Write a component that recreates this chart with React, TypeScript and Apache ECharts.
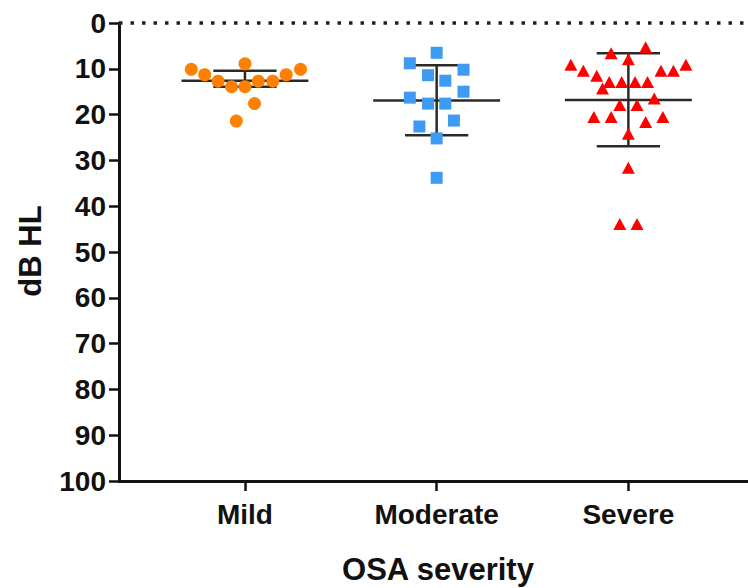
import React, { useEffect, useRef } from "react";
import * as echarts from "echarts";

// ---- data ----
const categories = ["Mild", "Moderate", "Severe"];
const categoryPositions = [1, 2, 3];

const mildValues = [10.1, 11.3, 12.7, 13.9, 8.9, 13.9, 12.7, 12.7, 11.3, 10.1, 17.6, 21.4];
const mildJitter = [-0.28, -0.21, -0.14, -0.07, 0, 0, 0.07, 0.145, 0.215, 0.29, 0.05, -0.045];

const moderateValues = [6.5, 8.8, 10.2, 11.4, 12.6, 15.0, 16.3, 17.6, 17.6, 21.3, 22.6, 25.2, 33.8];
const moderateJitter = [0, -0.14, 0.14, -0.045, 0.045, 0.14, -0.14, -0.045, 0.045, 0.09, -0.09, 0, 0];

const severeValues = [
  5.3, 6.6, 7.9, 9.1, 10.4, 10.4, 10.4, 9.1, 11.5, 12.9, 12.9, 12.9, 12.9,
  14.3, 16.5, 17.9, 17.9, 20.5, 20.5, 20.5, 21.6, 24.2, 31.6, 43.9, 43.9,
];
const severeJitter = [
  0.09, -0.09, 0, -0.3, -0.235, 0.17, 0.235, 0.3, -0.165, -0.1, -0.035, 0.035, 0.1,
  -0.135, 0.135, -0.045, 0.045, -0.18, -0.09, 0.18, 0.09, 0, 0, -0.045, 0.045,
];

const means = [12.6, 16.9, 16.8];
const sdLow = [10.4, 9.2, 6.6];
const sdHigh = [13.9, 24.5, 26.9];

const yMin = 0;
const yMax = 100;
const yInterval = 10;

// ---- styling ----
const FONT = '"Liberation Sans", Arial, Helvetica, sans-serif';
const AXIS_COLOR = "#111";
const BAR_COLOR = "#2a2a2a";
const MEAN_HALF = 0.331;
const CAP_HALF = 0.165;

function toPoints(values: number[], jitter: number[], pos: number) {
  return values.map((v, i) => [pos + jitter[i], v]);
}

export default function App() {
  const ref = useRef<HTMLDivElement>(null);

  useEffect(() => {
    if (!ref.current) return;
    const chart = echarts.init(ref.current, null, { renderer: "svg" });

    const errorData = categoryPositions.map((p, i) => [p, means[i], sdLow[i], sdHigh[i]]);

    const option: any = {
      animation: false,
      backgroundColor: "#fff",
      grid: { left: 119, right: 0, top: 23, bottom: 107, containLabel: false, outerBoundsMode: "none" },
      xAxis: {
        type: "value",
        min: 0.343,
        max: 3.624,
        splitLine: { show: false },
        axisLine: { show: true, onZero: false, lineStyle: { color: AXIS_COLOR, width: 3 } },
        axisTick: {
          show: true,
          customValues: categoryPositions,
          length: 10,
          lineStyle: { color: AXIS_COLOR, width: 2.5 },
        },
        axisLabel: {
          customValues: categoryPositions,
          formatter: (v: number) => categories[Math.round(v) - 1] ?? "",
          fontFamily: FONT,
          fontSize: 28,
          fontWeight: "bold",
          color: AXIS_COLOR,
          margin: 19,
        },
      },
      yAxis: {
        type: "value",
        inverse: true,
        min: yMin,
        max: yMax,
        interval: yInterval,
        splitLine: { show: false },
        axisLine: { show: true, onZero: false, lineStyle: { color: AXIS_COLOR, width: 3 } },
        axisTick: { show: true, length: 10, lineStyle: { color: AXIS_COLOR, width: 2.5 } },
        axisLabel: {
          fontFamily: FONT,
          fontSize: 28,
          fontWeight: "bold",
          color: AXIS_COLOR,
          margin: 13,
        },
      },
      graphic: [
        {
          type: "text",
          x: 30,
          y: 251,
          rotation: Math.PI / 2,
          style: {
            text: "dB HL",
            fontFamily: FONT,
            fontSize: 31,
            fontWeight: "bold",
            fill: AXIS_COLOR,
            align: "center",
            verticalAlign: "middle",
          },
        },
        {
          type: "text",
          x: 438,
          y: 569,
          style: {
            text: "OSA severity",
            fontFamily: FONT,
            fontSize: 31,
            fontWeight: "bold",
            fill: AXIS_COLOR,
            align: "center",
            verticalAlign: "middle",
          },
        },
      ],
      series: [
        {
          type: "custom",
          name: "mean ± SD",
          z: 2,
          data: errorData,
          renderItem: (params: any, api: any) => {
            const x = api.value(0);
            const m = api.value(1);
            const lo = api.value(2);
            const hi = api.value(3);
            const ml = api.coord([x - MEAN_HALF, m]);
            const mr = api.coord([x + MEAN_HALF, m]);
            const tl = api.coord([x - CAP_HALF, lo]);
            const tr = api.coord([x + CAP_HALF, lo]);
            const bl = api.coord([x - CAP_HALF, hi]);
            const br = api.coord([x + CAP_HALF, hi]);
            const vt = api.coord([x, lo]);
            const vb = api.coord([x, hi]);
            const style = { stroke: BAR_COLOR, lineWidth: 2.5 };
            return {
              type: "group",
              children: [
                { type: "line", shape: { x1: ml[0], y1: ml[1], x2: mr[0], y2: mr[1] }, style },
                { type: "line", shape: { x1: tl[0], y1: tl[1], x2: tr[0], y2: tr[1] }, style },
                { type: "line", shape: { x1: bl[0], y1: bl[1], x2: br[0], y2: br[1] }, style },
                { type: "line", shape: { x1: vt[0], y1: vt[1], x2: vb[0], y2: vb[1] }, style },
              ],
            };
          },
          markLine: {
            silent: true,
            symbol: ["none", "none"],
            label: { show: false },
            lineStyle: { color: "#222", width: 3.5, type: [3.5, 8] },
            data: [{ yAxis: 0 }],
          },
        },
        {
          type: "scatter",
          name: "Mild",
          z: 3,
          symbol: "circle",
          symbolSize: 13,
          itemStyle: { color: "#FF8000", opacity: 1 },
          data: toPoints(mildValues, mildJitter, categoryPositions[0]),
        },
        {
          type: "scatter",
          name: "Moderate",
          z: 3,
          symbol: "rect",
          symbolSize: 12,
          itemStyle: { color: "#3E9BF4", opacity: 1 },
          data: toPoints(moderateValues, moderateJitter, categoryPositions[1]),
        },
        {
          type: "scatter",
          name: "Severe",
          z: 3,
          symbol: "triangle",
          symbolSize: [13, 12],
          itemStyle: { color: "#FF0000", opacity: 1 },
          data: toPoints(severeValues, severeJitter, categoryPositions[2]),
        },
      ],
    };

    chart.setOption(option);
    return () => chart.dispose();
  }, []);

  return (
    <div
      ref={ref}
      style={{ position: "fixed", left: 0, top: 0, width: 748, height: 588, background: "#fff" }}
    />
  );
}
